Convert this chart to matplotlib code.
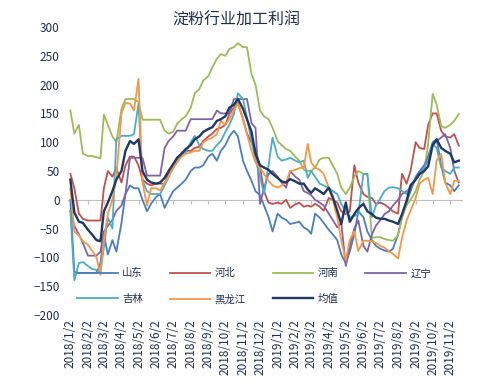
import matplotlib.pyplot as plt
import pandas as pd

plt.rcParams['font.family'] = ['Noto Sans CJK SC', 'DejaVu Sans']

# roughly weekly readings: 2018/1/2 .. 2019/11/17
base = pd.Timestamp('2018-01-02')
dates = [base + pd.DateOffset(months=k) + pd.Timedelta(days=d)
         for k in range(23) for d in (0, 7, 15, 22)][:91]

# one row per month
shandong = [0, -125, -127, -127, -127, -127, -127, -110, -60, -95, -70, -90,
            -40, 10, 25, 20, 20, 0, -20, -7, 5, 10, -14, 0,
            15, 21, 28, 35, 50, 56, 56, 60, 75, 80, 68, 85,
            95, 110, 120, 110, 68, 50, 33, 15, 8, -10, -30, -55,
            -24, -31, -35, -42, -40, -38, -48, -52, -59, -24, -31, -40,
            -52, -60, -70, -95, -110, -90, -60, -20, -30, -55, -70, -80,
            -85, -88, -90, -85, -60, -30, -5, 15, 40, 50, 60, 75,
            100, 105, 60, 30, 25, 15, 25]
hebei = [45, 20, -24, -33, -36, -36, -36, -36, 20, 50, 40, 55,
         30, 60, 75, 75, 60, 35, 28, 25, 28, 28, 28, 45,
         55, 68, 82, 85, 85, 90, 92, 102, 110, 115, 123, 125,
         130, 149, 160, 168, 140, 115, 100, 88, 56, 15, -5, -7,
         -5, -7, 0, -14, -8, -5, -12, -10, -12, -7, -12, -19,
         3, 0, -5, -20, -25, -20, 60, 30, 10, 5, 3, -7,
         -5, -8, -14, -20, -24, 45, 28, 50, 100, 90, 88, 130,
         150, 150, 120, 110, 108, 114, 94]
henan = [155, 115, 130, 80, 76, 76, 74, 72, 148, 130, 110, 100,
         158, 175, 175, 175, 170, 139, 139, 139, 139, 139, 120, 115,
         118, 132, 140, 145, 160, 185, 192, 207, 215, 230, 245, 253,
         250, 262, 265, 272, 265, 265, 218, 200, 155, 145, 140, 125,
         102, 95, 88, 85, 75, 68, 52, 50, 50, 56, 70, 73,
         73, 60, 45, 21, 10, 21, 40, 50, 45, 45, -66, -65,
         -65, -68, -70, -71, -62, -31, -10, 0, 15, 35, 50, 97,
         184, 165, 128, 125, 130, 137, 149]
liaoning = [-20, -45, -60, -75, -97, -97, -97, -90, -55, -45, -35, -19,
            -10, 10, 73, 73, 73, 73, 42, 42, 42, 42, 90, 102,
            110, 120, 120, 120, 140, 140, 140, 140, 140, 140, 155, 150,
            150, 150, 175, 175, 175, 175, 133, 125, -7, 20, 45, 50,
            40, 30, 21, 50, 40, 35, 15, 12, 8, 0, -5, -10,
            -24, -35, -48, -40, -115, -80, -50, -36, -80, -90, -60, -45,
            -35, -25, -20, -10, 0, 10, 15, 20, 35, 45, 56, 75,
            95, 102, 108, 114, 90, 50, 30]
jilin = [-19, -140, -110, -108, -115, -120, -122, -125, -83, -31, -50, 105,
         111, 111, 111, 114, 167, 33, 15, 10, 10, 10, 25, 40,
         55, 70, 80, 82, 100, 111, 95, 88, 85, 85, 95, 102,
         118, 130, 149, 185, 175, 142, 102, 70, 40, 10, 60, 108,
         75, 68, 70, 73, 68, 65, 68, 38, 50, 40, 28, 25,
         21, 15, 10, -7, -20, -31, -28, -25, 45, 45, -30, -10,
         3, 15, 21, 22, 20, 15, 10, 25, 35, 45, 55, 68,
         97, 90, 56, 50, 45, 56, 56]
heilongjiang = [20, -55, -62, -72, -78, -88, -100, -130, -70, -24, 0, 40,
                150, 168, 167, 155, 210, 30, -10, 20, 20, 16, 30, 40,
                56, 65, 75, 80, 82, 85, 85, 100, 105, 108, 114, 137,
                130, 140, 155, 167, 142, 114, 85, 65, 55, 45, 33, 25,
                21, 25, 30, 50, 52, 55, 56, 97, 65, 56, 52, 45,
                21, 0, -31, -71, -105, -70, -55, -89, -71, -71, -72, -75,
                -80, -83, -89, -94, -102, -66, -36, -19, 3, 28, 35, 38,
                10, 68, 80, 30, 10, 33, 33]
mean = [35, -22, -38, -40, -52, -60, -70, -72, -20, -5, 15, 35,
        50, 85, 102, 97, 105, 50, 35, 30, 28, 30, 38, 50,
        62, 73, 80, 88, 95, 105, 110, 118, 123, 126, 137, 140,
        145, 160, 165, 175, 158, 140, 118, 80, 60, 56, 52, 45,
        38, 32, 30, 36, 32, 28, 28, 18, 12, 20, 15, 10,
        21, 5, -19, -42, -5, -38, -25, -15, -7, -20, -25, -31,
        -33, -33, -36, -38, -42, -25, -2, 25, 35, 45, 50, 58,
        95, 105, 90, 85, 80, 65, 68]

names = ['山东', '河北', '河南', '辽宁', '吉林', '黑龙江', '均值']
series = [shandong, hebei, henan, liaoning, jilin, heilongjiang, mean]
colors = ['#4A7EBB', '#C0504D', '#9BBB59', '#8064A2', '#4BACC6', '#F79646', '#1F3864']

tick_dates = [base + pd.DateOffset(months=k) for k in range(23)]
tick_labels = ['2018/%d/2' % k for k in range(1, 13)] + ['2019/%d/2' % k for k in range(1, 12)]

txt = '#1F2D4E'

fig = plt.figure(figsize=(4.97, 3.86), dpi=100)
ax = fig.add_axes([0.137, 0.184, 0.793, 0.746])

lines = {}
for name, vals, c in zip(names, series, colors):
    lw = 1.7 if name == '均值' else 1.3
    lines[name], = ax.plot(dates, vals, color=c, lw=lw, label=name)

ax.set_ylim(-200, 300)
ax.set_yticks(range(-200, 301, 50))
ax.set_xlim(pd.Timestamp('2017-12-29'), pd.Timestamp('2019-11-23'))
ax.set_xticks(tick_dates)
ax.set_xticklabels(tick_labels, rotation=90)
ax.tick_params(axis='both', length=0, labelsize=8.5, colors=txt)
ax.tick_params(axis='y', pad=6)
ax.tick_params(axis='x', pad=3)
for s in ax.spines.values():
    s.set_visible(False)

# zero line with small ticks (category axis crossing at 0)
sec = ax.secondary_xaxis(0.4)
sec.set_xticks(tick_dates)
sec.tick_params(length=3, color='#BFBFBF', labelbottom=False)
sec.spines['bottom'].set_color('#BFBFBF')

# legend filled row by row: 山东 河北 河南 辽宁 / 吉林 黑龙江 均值
order = ['山东', '吉林', '河北', '黑龙江', '河南', '均值', '辽宁']
ax.legend([lines[n] for n in order], order, ncol=4, loc='center left',
          bbox_to_anchor=(0.023, 0.10), frameon=False,
          fontsize=7.5, handlelength=3.9, columnspacing=2.6, labelspacing=1.5,
          borderpad=0, borderaxespad=0, handletextpad=0.4, labelcolor=txt)

fig.text(0.475, 0.947, '淀粉行业加工利润', ha='center', va='center', fontsize=11.5, color=txt)

fig.savefig('out.png', dpi=100)
